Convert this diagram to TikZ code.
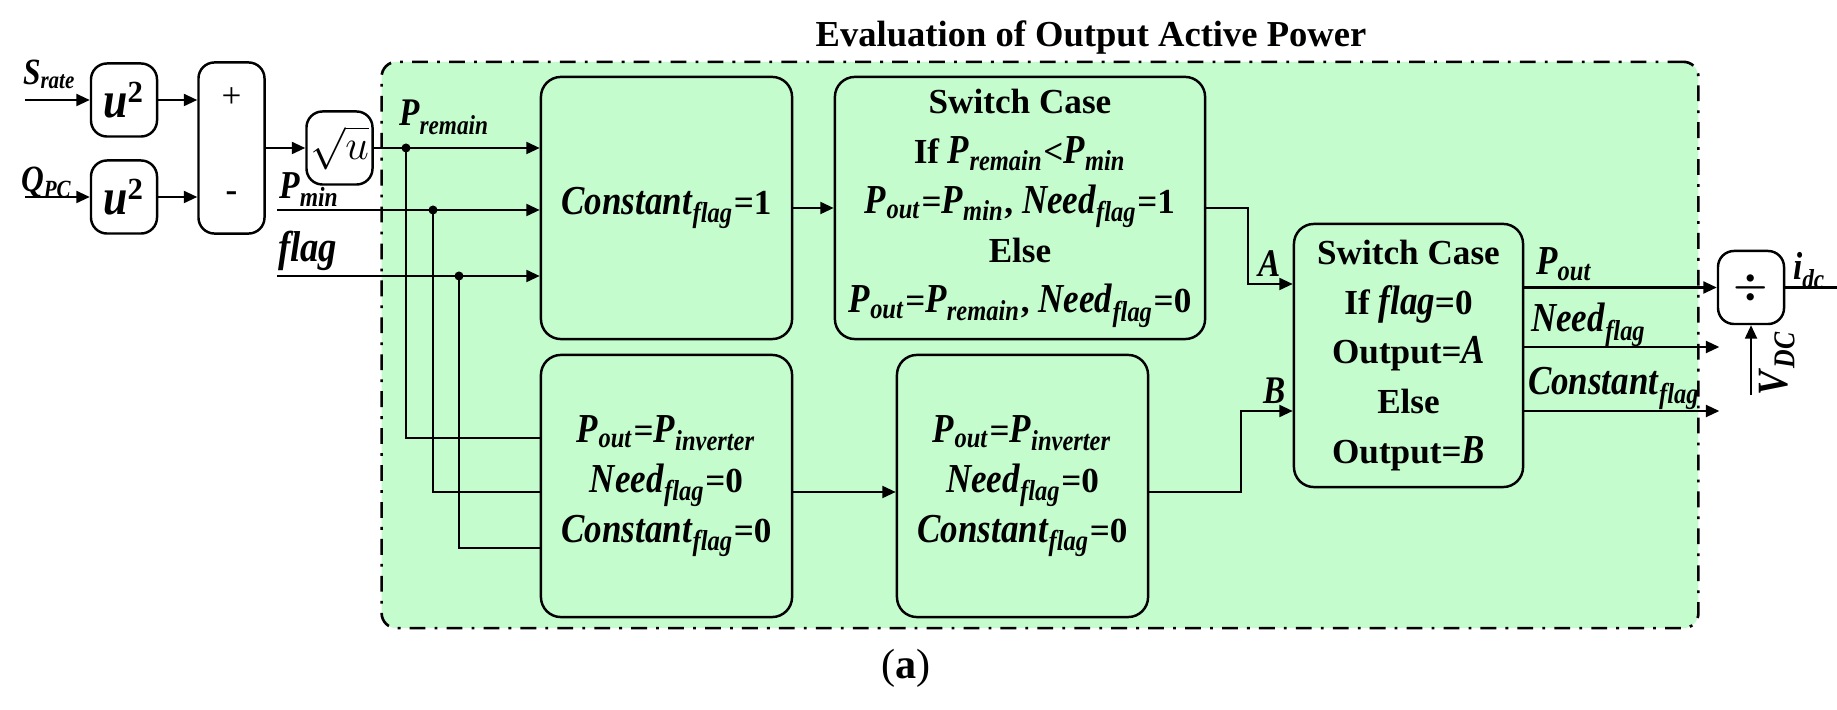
\documentclass[tikz,border=0pt]{standalone}
\usepackage{amsmath}
\usepackage{fontspec}
\setmainfont{Liberation Serif}[BoldItalicFeatures={Scale=1.17,FakeStretch=0.85}]
\usepackage{tikz}
\usetikzlibrary{arrows.meta,calc}
\usepackage{xcolor}
\definecolor{boxgreen}{RGB}{197,252,206}
\newcommand{\vi}[2]{\textit{#1}\textsubscript{\textit{#2}}}
\tikzset{
    ctrlnode/.style={
        rectangle,
        draw,
        line width=0.7pt,
        rounded corners=0.16cm,
        fill=white,
        minimum width=0.66cm,
        minimum height=0.73cm,
        inner sep=0pt,
        text centered
    },
    logicnode/.style={
        ctrlnode,
        fill=boxgreen,
        rounded corners=0.2cm,
        minimum width=2.51cm,
        minimum height=2.62cm,
        align=center,
        font=\fontsize{10}{14.2}\selectfont\bfseries
    },
    evalframe/.style={
        rectangle,
        draw,
        fill=boxgreen,
        line width=0.75pt,
        rounded corners=0.15cm,
        dash pattern=on 4.5pt off 2.6pt on 0.8pt off 2.6pt
    },
    junction/.style={
        circle,
        fill,
        inner sep=0pt,
        minimum size=0.09cm
    },
    siglabel/.style={
        inner sep=0pt,
        anchor=base west
    }
}

\begin{document}
\begin{tikzpicture}[x=0.01cm, y=-0.01cm, line width=0.6pt, >={Triangle[length=3.8pt,width=3.4pt]}]
    \useasboundingbox (0,0) rectangle (1837,710);

    % Evaluation area
    \node[evalframe, minimum width=13.16cm, minimum height=5.66cm] (evalbox) at (1040,345) {};
    \node[font=\fontsize{10.4}{12}\selectfont\bfseries, anchor=base] (title) at (1091,47) {Evaluation of Output Active Power};

    % Remaining power
    \coordinate (srate) at (25,100);
    \coordinate (qpc) at (25,197);
    \node[ctrlnode, font=\fontsize{12.5}{14}\selectfont\bfseries] (sq1) at (124,100) {\textit{u}\textsuperscript{2}};
    \node[ctrlnode, font=\fontsize{12.5}{14}\selectfont\bfseries] (sq2) at (124,197) {\textit{u}\textsuperscript{2}};
    \node[ctrlnode, minimum height=1.71cm] (sum) at (231.5,148) {};
    \node[font=\fontsize{10}{12}\selectfont] (plus) at (231.5,98) {+};
    \node[font=\fontsize{10}{12}\selectfont\bfseries] (minus) at (231.5,197) {-};
    \node[ctrlnode, font=\fontsize{12}{14}\selectfont] (root) at (339.5,148) {$\sqrt{u}$};
    \draw[->] (srate) -- (sq1);
    \draw[->] (qpc) -- (sq2);
    \draw[->] (sq1) -- (sq1 -| sum.west);
    \draw[->] (sq2) -- (sq2 -| sum.west);
    \draw[->] (sum.east) -- (root.west);
    \node[siglabel, font=\fontsize{9}{10}\selectfont\bfseries] (srlbl) at (22,85) {\vi{S}{rate}};
    \node[siglabel, font=\fontsize{9}{10}\selectfont\bfseries] (qlbl) at (20,192) {\vi{Q}{PC}};

    % Logic blocks
    \node[logicnode] (const) at (666.5,208) {\vi{Constant}{flag}=1};
    \node[logicnode, minimum width=3.7cm] (sw1) at (1020,208) {Switch Case\\If \vi{P}{remain}<\vi{P}{min}\\\vi{P}{out}=\vi{P}{min}, \vi{Need}{flag}=1\\Else\\\vi{P}{out}=\vi{P}{remain}, \vi{Need}{flag}=0};
    \node[logicnode] (inv1) at (666.5,486) {\vi{P}{out}=\vi{P}{inverter}\\\vi{Need}{flag}=0\\\vi{Constant}{flag}=0};
    \node[logicnode] (inv2) at (1022.5,486) {\vi{P}{out}=\vi{P}{inverter}\\\vi{Need}{flag}=0\\\vi{Constant}{flag}=0};
    \node[logicnode, minimum width=2.29cm, minimum height=2.63cm] (sw2) at (1408.5,355.5) {Switch Case\\If \textit{flag}=0\\Output=\textit{A}\\Else\\Output=\textit{B}};
    \node[ctrlnode, font=\fontsize{11}{13}\selectfont] (divb) at (1751,287.5) {$\boldsymbol{\div}$};

    % Inputs and branches
    \coordinate (pmin) at (277,210);
    \coordinate (flagin) at (277,276);
    \node[junction] (jrem) at (406,148) {};
    \node[junction] (jmin) at (433,210) {};
    \node[junction] (jflag) at (459,276) {};
    \draw[->] (root.east) -- (root.east -| const.west);
    \draw[->] (pmin) -- (pmin -| const.west);
    \draw[->] (flagin) -- (flagin -| const.west);
    \draw (jrem.center) |- ($(inv1.west)+(0,-48)$);
    \draw (jmin.center) |- ($(inv1.west)+(0,6)$);
    \draw (jflag.center) |- ($(inv1.west)+(0,62)$);
    \node[siglabel, font=\fontsize{9.5}{11}\selectfont\bfseries] (premlbl) at (398,126) {\vi{P}{remain}};
    \node[siglabel, font=\fontsize{9.6}{11}\selectfont\bfseries] (pminlbl) at (278,199) {\vi{P}{min}};
    \node[siglabel, font=\fontsize{10.5}{11}\selectfont\bfseries] (flaglbl) at (277,262) {\textit{flag}};

    % Block connections
    \draw[->] (const.east) -- (const.east -| sw1.west);
    \draw[->] ($(inv1.east)+(0,6)$) -- ($(inv2.west)+(0,6)$);
    \draw[->] (sw1.east) -- ++(42,0) |- ($(sw2.west)+(0,-71.5)$);
    \draw[->] ($(inv2.east)+(0,6)$) -- ++(92,0) |- ($(sw2.west)+(0,55.5)$);
    \node[siglabel, font=\fontsize{9.5}{11}\selectfont\bfseries] (albl) at (1257,277) {\textit{A}};
    \node[siglabel, font=\fontsize{9.5}{11}\selectfont\bfseries] (blbl) at (1262,404) {\textit{B}};

    % Outputs
    \draw[->] (divb.west -| sw2.east) -- (divb.west);
    \draw[->] ($(sw2.east)+(0,-8.5)$) -- ++(195,0);
    \draw[->] ($(sw2.east)+(0,55.5)$) -- ++(195,0);
    \coordinate (vdc) at (1751,395);
    \coordinate (idc) at (1837,287.5);
    \draw[->] (vdc) -- (divb.south);
    \draw (divb.east) -- (idc);
    \node[siglabel, font=\fontsize{10}{12}\selectfont\bfseries] (poutlbl) at (1535,275) {\vi{P}{out}};
    \node[siglabel, font=\fontsize{10}{12}\selectfont\bfseries] (needlbl) at (1530,332) {\vi{Need}{flag}};
    \node[siglabel, font=\fontsize{10}{12}\selectfont\bfseries] (constlbl) at (1527,395) {\vi{Constant}{flag}};
    \node[font=\fontsize{10.5}{12}\selectfont\bfseries, rotate=90, inner sep=0pt] (vdclbl) at (1777,363) {\vi{V}{DC}};
    \node[siglabel, font=\fontsize{9.5}{11}\selectfont\bfseries] (idclbl) at (1792,280) {\vi{i}{dc}};

    \node[font=\fontsize{12}{14}\selectfont] (caption) at (906,668) {(\textbf{a})};
\end{tikzpicture}
\end{document}
